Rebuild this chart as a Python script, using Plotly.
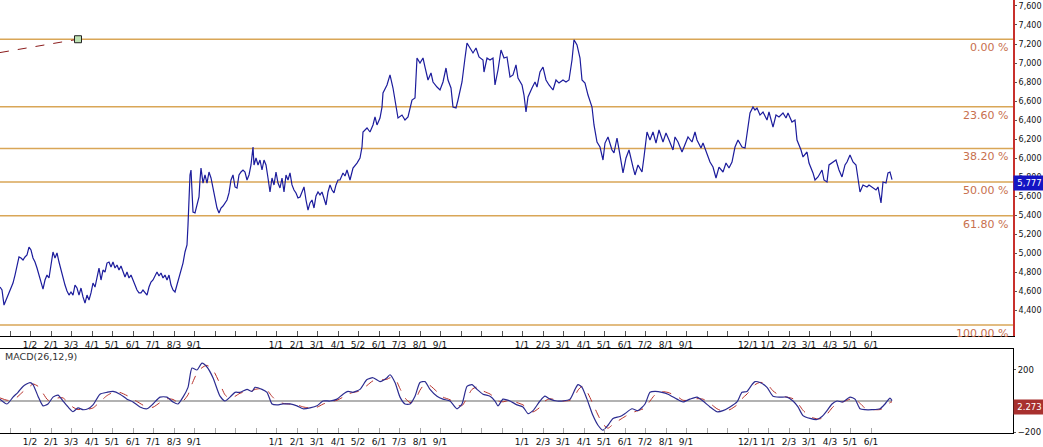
import plotly.graph_objects as go

# price history, x = trading session number
session = [0, 2, 4, 7, 9, 11, 13, 15, 17, 19, 21, 23, 25, 27, 29, 31, 33, 35, 37, 39,
           41, 43, 45, 47, 49, 51, 53, 55, 57, 59, 61, 63, 65, 67, 69, 71, 73, 75, 77, 79,
           81, 83, 85, 87, 89, 91, 93, 95, 97, 99, 101, 103, 105, 107, 109, 111, 113, 115, 117, 119,
           121, 123, 125, 127, 129, 131, 133, 135, 137, 139, 141, 143, 145, 147, 149, 151, 153, 155, 157, 159,
           161, 163, 165, 167, 169, 171, 173, 175, 177, 179, 181, 183, 185, 187, 188, 189, 190, 191, 192, 193,
           195, 197, 199, 200, 201, 203, 205, 207, 209, 211, 213, 215, 217, 219, 221, 223, 225, 227, 229, 231,
           233, 235, 237, 239, 241, 243, 245, 247, 249, 251, 253, 254, 256, 258, 260, 262, 264, 266, 268, 270,
           272, 274, 276, 278, 280, 282, 284, 286, 288, 290, 292, 294, 296, 298, 300, 302, 304, 306, 308, 310,
           312, 314, 316, 318, 320, 322, 324, 326, 328, 330, 332, 334, 336, 338, 340, 343, 345, 347, 350, 353,
           357, 360, 362, 363, 367, 370, 373, 375, 377, 380, 382, 383, 387, 390, 393, 397, 398, 402, 405, 408,
           412, 415, 417, 420, 423, 425, 428, 431, 433, 437, 440, 443, 446, 448, 451, 453, 456, 458, 462, 465,
           467, 470, 473, 476, 479, 483, 484, 487, 490, 493, 495, 498, 501, 504, 507, 510, 513, 516, 518, 522,
           524, 526, 528, 532, 535, 537, 540, 543, 546, 549, 553, 556, 559, 563, 566, 569, 572, 574, 577, 580,
           582, 585, 588, 592, 594, 597, 600, 603, 605, 608, 612, 614, 617, 620, 623, 626, 629, 633, 635, 638,
           642, 644, 647, 650, 653, 656, 659, 663, 666, 669, 673, 675, 678, 682, 685, 688, 692, 695, 697, 701,
           703, 707, 710, 713, 716, 719, 723, 726, 729, 732, 735, 738, 742, 745, 747, 750, 753, 755, 757, 760,
           763, 767, 769, 773, 776, 779, 783, 786, 788, 792, 795, 797, 801, 803, 807, 809, 813, 815, 818, 822,
           824, 827, 829, 833, 836, 839, 842, 845, 847, 850, 853, 856, 858, 860, 863, 867, 869, 873, 876, 878,
           881, 883, 886, 888, 890, 892]
price = [4648, 4617, 4459, 4533, 4596, 4638, 4690, 4774, 4880, 4964, 4953, 4932, 4964, 4985, 5068, 5037, 4953, 4911, 4848, 4774,
         4690, 4627, 4722, 4774, 4743, 4911, 5016, 4953, 5006, 4911, 4827, 4722, 4669, 4606, 4564, 4596, 4564, 4669, 4638, 4564,
         4638, 4544, 4480, 4564, 4512, 4586, 4690, 4648, 4743, 4848, 4722, 4827, 4806, 4900, 4911, 4858, 4911, 4848, 4880, 4827,
         4869, 4806, 4754, 4806, 4743, 4774, 4722, 4669, 4617, 4586, 4586, 4617, 4586, 4564, 4648, 4701, 4722, 4774, 4806, 4764,
         4796, 4743, 4774, 4722, 4774, 4669, 4617, 4596, 4669, 4754, 4827, 4900, 5016, 5090, 5300, 5510, 5825, 5877, 5615, 5436,
         5426, 5510, 5594, 5772, 5898, 5740, 5825, 5740, 5856, 5793, 5699, 5594, 5478, 5426, 5478, 5499, 5531, 5562, 5636, 5772,
         5825, 5699, 5688, 5825, 5856, 5877, 5856, 5772, 5825, 5930, 6118, 5930, 6003, 5930, 5982, 5877, 5982, 5930, 5793, 5646,
         5793, 5720, 5856, 5740, 5688, 5793, 5646, 5825, 5772, 5846, 5720, 5667, 5636, 5583, 5594, 5646, 5699, 5562, 5457, 5531,
         5562, 5478, 5604, 5646, 5615, 5646, 5562, 5510, 5646, 5720, 5667, 5636, 5720, 5772, 5772, 5846, 5814, 5877, 5772, 5898,
         5950, 6003, 6118, 6276, 6318, 6276, 6350, 6434, 6350, 6423, 6538, 6686, 6770, 6875, 6738, 6507, 6423, 6454, 6402, 6434,
         6612, 6633, 7053, 7000, 7053, 6958, 6822, 6896, 6801, 6748, 6717, 6801, 6948, 6822, 6738, 6538, 6528, 6612, 6801, 7053,
         7210, 7158, 7106, 7158, 7064, 7032, 6906, 7053, 7032, 7053, 6770, 6927, 7137, 7053, 7064, 6854, 6875, 6980, 6843, 6770,
         6664, 6486, 6644, 6738, 6801, 6748, 6906, 6958, 6822, 6770, 6717, 6822, 6790, 6822, 6801, 6822, 7032, 7245, 7190, 7053,
         6822, 6790, 6664, 6538, 6350, 6171, 6118, 5982, 6160, 6224, 6087, 6056, 6213, 6034, 5846, 6003, 6087, 5908, 5825, 5930,
         5856, 6014, 6276, 6192, 6276, 6160, 6297, 6171, 6266, 6192, 6087, 6224, 6171, 6066, 6140, 6224, 6171, 6276, 6192, 6108,
         6160, 6056, 5961, 5908, 5793, 5908, 5856, 5950, 5898, 5961, 6118, 6192, 6118, 6108, 6266, 6476, 6538, 6507, 6528, 6454,
         6486, 6402, 6486, 6328, 6454, 6434, 6476, 6423, 6476, 6381, 6402, 6192, 6087, 6014, 6066, 5950, 5846, 5772, 5804, 5877,
         5772, 5751, 5930, 5961, 5982, 5877, 5804, 5930, 5961, 6034, 5961, 5930, 5804, 5646, 5720, 5699, 5720, 5688, 5667, 5699,
         5531, 5751, 5740, 5846, 5856, 5777]

# MACD(26,12,9) and its signal line
macd_session = [0, 7, 13, 18, 23, 30, 33, 38, 43, 48, 53, 58, 63, 68, 73, 78, 83, 88, 93, 100,
                107, 113, 120, 127, 133, 140, 147, 153, 160, 167, 173, 178, 183, 188, 192, 197, 202, 207, 213, 220,
                225, 230, 235, 240, 247, 252, 255, 262, 267, 272, 277, 283, 290, 297, 303, 310, 317, 323, 330, 337,
                343, 348, 353, 360, 367, 373, 380, 387, 390, 395, 400, 405, 410, 415, 420, 425, 430, 437, 443, 450,
                457, 462, 467, 472, 477, 483, 490, 495, 498, 503, 510, 517, 523, 528, 533, 540, 545, 550, 557, 563,
                570, 575, 578, 582, 587, 593, 598, 603, 608, 613, 620, 625, 632, 638, 645, 650, 655, 662, 668, 677,
                683, 690, 697, 703, 710, 717, 723, 730, 737, 742, 747, 752, 755, 760, 767, 773, 780, 787, 793, 798,
                803, 810, 817, 822, 827, 832, 837, 843, 850, 855, 860, 865, 872, 880, 885, 890, 892]
macd = [12, -19, 25, 56, 94, 119, 106, 31, -31, -19, 25, 38, 0, -38, -69, -44, -56, -50, -25, 44,
        56, 62, 44, 12, -6, -38, -50, -19, 25, 25, -6, -19, 25, 88, 212, 200, 244, 219, 150, 31,
        0, 25, 56, 56, 75, 62, 88, 75, 56, -19, -25, -19, -19, -31, -50, -44, -31, 0, 0, 12,
        44, 62, 56, 75, 138, 150, 125, 150, 169, 119, 25, -19, -19, 31, 119, 125, 75, 31, 12, 0,
        -50, -19, 94, 106, 75, 44, 31, 0, -31, 12, 0, -25, -38, -81, -62, 0, 31, 12, 0, 0,
        12, 75, 106, 88, 12, -94, -156, -188, -156, -112, -100, -81, -50, -62, -19, 56, 62, 56, 44, 12,
        -6, 12, 25, 0, -38, -69, -62, -38, -6, 56, 62, 106, 125, 119, 88, 31, 25, 25, 0, -38,
        -94, -112, -119, -100, -62, -19, 0, -6, 25, 12, -50, -56, -56, -50, -19, 19, 2.273]
signal = [20, 5, 5, 30, 60, 95, 110, 95, 50, 5, 5, 20, 20, -10, -40, -55, -50, -52, -45, -5,
          35, 55, 55, 35, 12, -15, -40, -40, -10, 15, 10, -8, 0, 40, 110, 180, 215, 230, 200, 110,
          40, 15, 30, 50, 62, 65, 75, 80, 70, 30, 0, -15, -20, -25, -38, -45, -40, -20, -5, 5,
          25, 45, 55, 65, 100, 130, 135, 140, 150, 145, 80, 20, -10, 5, 70, 110, 100, 60, 25, 8,
          -25, -30, 20, 75, 90, 65, 45, 20, 0, -5, 5, -10, -25, -50, -70, -40, 0, 15, 5, 0,
          5, 35, 70, 95, 60, -20, -90, -150, -175, -150, -120, -100, -75, -62, -45, 0, 40, 60, 55, 30,
          5, 5, 15, 12, -15, -50, -65, -55, -25, 15, 45, 80, 105, 120, 110, 65, 35, 25, 15, -15,
          -60, -100, -115, -112, -85, -45, -15, -5, 12, 15, -15, -45, -55, -55, -40, -10, -5]

# fibonacci retracement tool
fib_high = 7250
fib_low = 4250
fib_ratios = [0.0, 0.236, 0.382, 0.5, 0.618, 1.0]
fib_anchor_session = [0, 78]
fib_anchor_price = [7110, 7250]

# month ticks (first session of each month)
month_ticks = [10, 30, 51, 71, 92, 112, 133, 153, 174, 194, 215, 235, 256, 276, 297, 317, 338, 358, 379, 399,
               420, 440, 461, 481, 502, 522, 543, 563, 584, 604, 625, 645, 666, 686, 707, 727, 748, 768, 789, 809,
               830, 850, 871]
month_text = ["", "1/2", "2/1", "3/3", "4/1", "5/1", "6/1", "7/1", "8/3", "9/1", "", "", "", "1/1", "2/1", "3/1", "4/1",
              "5/2", "6/1", "7/3", "8/1", "9/1", "", "", "", "1/1", "2/3", "3/1", "4/1", "5/1", "6/1", "7/2", "8/1",
              "9/1", "", "", "12/1", "1/1", "2/3", "3/1", "4/3", "5/1", "6/1"]
price_ticks = list(range(4400, 7601, 200))
macd_ticks = [-200, 200]

FONT = "DejaVu Sans"
fib_prices = [fib_high - r * (fib_high - fib_low) for r in fib_ratios]

fig = go.Figure()
fig.add_trace(go.Scatter(x=session, y=price, mode="lines",
                         line=dict(color="#1c1c9c", width=1.2), xaxis="x", yaxis="y"))
fig.add_trace(go.Scatter(x=fib_anchor_session, y=fib_anchor_price, mode="lines",
                         line=dict(color="#8b1c1c", width=1, dash="dash"), xaxis="x", yaxis="y"))
fig.add_trace(go.Scatter(x=fib_anchor_session[-1:], y=fib_anchor_price[-1:], mode="markers",
                         marker=dict(symbol="square", size=7, color="#bfe3b4",
                                     line=dict(color="#222", width=1)), xaxis="x", yaxis="y"))

# macd panel
fig.add_trace(go.Scatter(x=[macd_session[0], macd_session[-1]], y=[0, 0], mode="lines",
                         line=dict(color="#999999", width=1.5), xaxis="x2", yaxis="y2"))
fig.add_trace(go.Scatter(x=macd_session, y=signal, mode="lines", line=dict(color="#b8322c", width=1, dash="dash",
                         shape="spline", smoothing=0.6), xaxis="x2", yaxis="y2"))
fig.add_trace(go.Scatter(x=macd_session, y=macd, mode="lines", line=dict(color="#2c2c90", width=1.2,
                         shape="spline", smoothing=0.6), xaxis="x2", yaxis="y2"))

for r, p in zip(fib_ratios, fib_prices):
    fig.add_shape(type="line", xref="paper", x0=0, x1=1, yref="y", y0=p, y1=p,
                  line=dict(color="#d9a657", width=1.5), layer="below")
    fig.add_annotation(x=1010, xref="x", y=p, yref="y", text=f"{r * 100:.2f} %",
                       xanchor="right", yanchor="top", showarrow=False,
                       font=dict(family=FONT, size=11, color="#c8704e"))

fig.add_annotation(x=1, xref="paper", y=price[-1], yref="y", text=f"{price[-1]:,}",
                   xanchor="left", yanchor="middle", yshift=-3, showarrow=False,
                   bgcolor="#1414c4", borderpad=2, width=27,
                   font=dict(family=FONT, size=8.5, color="white"))
fig.add_annotation(x=1, xref="paper", y=macd[-1], yref="y2", text=f"{macd[-1]:.3f}",
                   xanchor="left", yanchor="middle", yshift=-6, showarrow=False,
                   bgcolor="#a8302e", borderpad=2, width=27,
                   font=dict(family=FONT, size=8.5, color="white"))
fig.add_annotation(x=0.003, xref="paper", y=0.176, yref="paper", text="MACD(26,12,9)",
                   xanchor="left", yanchor="middle", showarrow=False,
                   font=dict(family=FONT, size=9.5, color="#333"))

xcommon = dict(range=[0, 1013], tickvals=month_ticks, ticktext=month_text, showgrid=False,
               zeroline=False, showline=True, linecolor="#000", linewidth=1, ticks="inside",
               ticklen=5, tickfont=dict(family=FONT, size=9, color="#111"), automargin=False)

fig.update_layout(
    width=1043, height=447,
    margin=dict(l=0, r=30, t=0, b=14),
    paper_bgcolor="white", plot_bgcolor="white",
    showlegend=False,
    xaxis=dict(anchor="y", tickcolor="#555", **xcommon),
    xaxis2=dict(anchor="y2", tickcolor="#aaa", mirror=True, **xcommon),
    yaxis=dict(domain=[0.224, 1], side="right", range=[4134, 7662], tickvals=price_ticks,
               tickformat=",", showgrid=False, zeroline=False, showline=True,
               linecolor="#c8302c", linewidth=2, ticks="outside", ticklen=2, tickcolor="#555",
               tickfont=dict(family=FONT, size=8, color="#111"), automargin=False),
    yaxis2=dict(domain=[0, 0.194], side="right", range=[-206, 335], tickvals=macd_ticks,
                showgrid=False, zeroline=False, showline=True, linecolor="#000", linewidth=1,
                ticks="outside", ticklen=2, tickcolor="#555",
                tickfont=dict(family=FONT, size=8.5, color="#111"), automargin=False),
)

# the page body has a default 8px margin; drop it so the chart fills the window
fig.write_html("out.html", config={"displayModeBar": False},
               post_script="document.body.style.margin='0';")
